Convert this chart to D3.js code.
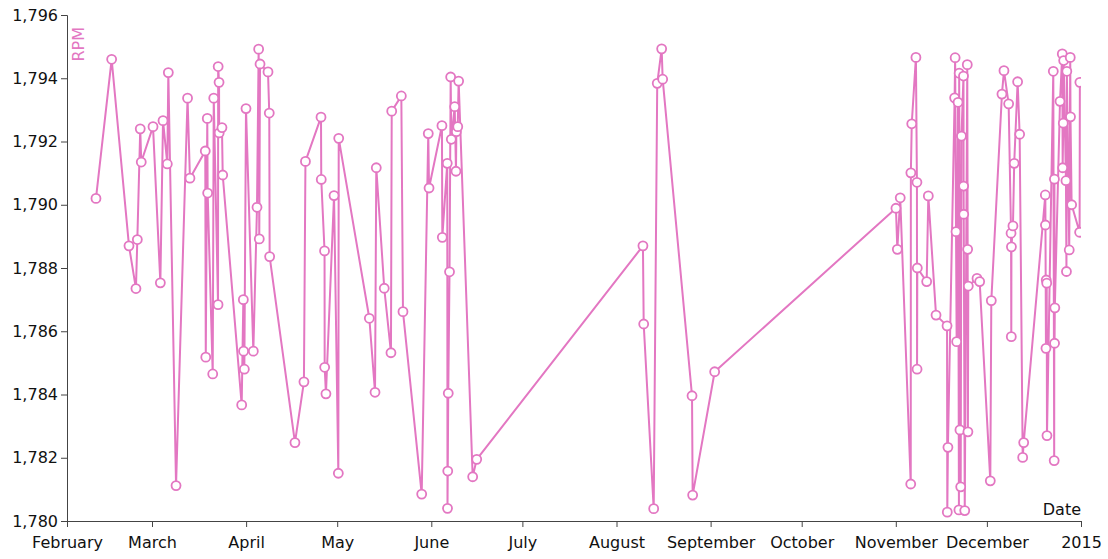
<!DOCTYPE html>
<html>
<head>
<meta charset="utf-8">
<script src="https://cdn.jsdelivr.net/npm/d3@7"></script>
<style>
  body { margin: 0; background: #fff; }
  svg { font-family: "DejaVu Sans", sans-serif; }
  .axis path, .axis line { stroke: #444; }
  .axis .tick text { font-size: 16px; fill: #111; font-family: "DejaVu Sans", sans-serif; }
  .axis-label { font-size: 16px; font-family: "DejaVu Sans", sans-serif; }
</style>
</head>
<body>
<svg width="1108" height="559"></svg>
<script>
// readings taken off the chart, in date order
const dates = [
  "2014-02-10 13","2014-02-15 17","2014-02-21 10","2014-02-23 17","2014-02-24 04",
  "2014-02-25 03","2014-02-25 11","2014-03-01 08","2014-03-03 18","2014-03-04 15",
  "2014-03-06 01","2014-03-06 09","2014-03-08 22","2014-03-12 17","2014-03-13 12",
  "2014-03-18 13","2014-03-18 17","2014-03-19 05","2014-03-19 08","2014-03-21 00",
  "2014-03-21 08","2014-03-22 18","2014-03-22 19","2014-03-23 02","2014-03-23 03",
  "2014-03-24 01","2014-03-24 07","2014-03-30 13","2014-03-31 02","2014-03-31 04",
  "2014-03-31 10","2014-03-31 23","2014-04-03 09","2014-04-04 14","2014-04-05 03",
  "2014-04-05 08","2014-04-05 14","2014-04-08 05","2014-04-08 15","2014-04-08 18",
  "2014-04-17 02","2014-04-20 01","2014-04-20 13","2014-04-25 16","2014-04-25 18",
  "2014-04-26 20","2014-04-26 21","2014-04-27 07","2014-04-29 23","2014-05-01 09",
  "2014-05-01 12","2014-05-11 14","2014-05-13 11","2014-05-13 21","2014-05-16 12",
  "2014-05-18 17","2014-05-18 23","2014-05-22 03","2014-05-22 16","2014-05-28 20",
  "2014-05-31 00","2014-05-31 06","2014-06-04 12","2014-06-04 15","2014-06-06 06",
  "2014-06-06 08","2014-06-06 10","2014-06-06 14","2014-06-07 00","2014-06-07 09",
  "2014-06-07 14","2014-06-08 17","2014-06-09 03","2014-06-09 06","2014-06-09 17",
  "2014-06-10 00","2014-06-14 15","2014-06-15 23","2014-08-09 17","2014-08-09 23",
  "2014-08-13 06","2014-08-14 10","2014-08-15 21","2014-08-16 05","2014-08-25 21",
  "2014-08-26 02","2014-09-02 08","2014-11-01 01","2014-11-01 12","2014-11-02 11",
  "2014-11-05 22","2014-11-05 23","2014-11-06 06","2014-11-07 15","2014-11-07 23",
  "2014-11-08 00","2014-11-08 02","2014-11-11 04","2014-11-11 17","2014-11-14 06",
  "2014-11-17 21","2014-11-17 23","2014-11-18 04","2014-11-20 09","2014-11-20 13",
  "2014-11-20 20","2014-11-21 01","2014-11-21 12","2014-11-21 19","2014-11-21 21",
  "2014-11-22 03","2014-11-22 09","2014-11-22 15","2014-11-23 07","2014-11-23 08",
  "2014-11-23 09","2014-11-23 17","2014-11-24 13","2014-11-24 16","2014-11-24 18",
  "2014-11-24 21","2014-11-27 18","2014-11-28 15","2014-12-02 03","2014-12-02 11",
  "2014-12-05 23","2014-12-06 15","2014-12-08 04","2014-12-08 23","2014-12-09 01",
  "2014-12-09 02","2014-12-09 14","2014-12-10 00","2014-12-11 03","2014-12-11 19",
  "2014-12-12 19","2014-12-13 03","2014-12-20 06","2014-12-20 07","2014-12-20 11",
  "2014-12-20 13","2014-12-20 17","2014-12-20 19","2014-12-22 21","2014-12-23 04",
  "2014-12-23 06","2014-12-23 07","2014-12-23 09","2014-12-25 02","2014-12-25 20",
  "2014-12-25 23","2014-12-26 04","2014-12-26 07","2014-12-27 01","2014-12-27 05",
  "2014-12-27 08","2014-12-28 03","2014-12-28 11","2014-12-28 13","2014-12-28 22",
  "2014-12-31 13","2014-12-31 15"
];
const rpm = [
  1790.2,1794.6,1788.7,1787.35,1788.9,
  1792.4,1791.35,1792.47,1787.53,1792.66,
  1791.29,1794.18,1781.12,1793.37,1790.84,
  1791.7,1785.18,1792.73,1790.37,1784.65,
  1793.37,1786.84,1794.37,1793.87,1792.27,
  1792.44,1790.94,1783.67,1787.0,1785.37,
  1784.8,1793.04,1785.37,1789.92,1794.92,
  1788.92,1794.45,1794.2,1792.9,1788.36,
  1782.48,1784.4,1791.37,1792.77,1790.8,
  1788.54,1784.86,1784.02,1790.29,1781.51,
  1792.1,1786.41,1784.07,1791.17,1787.36,
  1785.32,1792.96,1793.44,1786.62,1780.85,
  1792.25,1790.53,1792.5,1788.97,1791.31,
  1780.4,1781.58,1784.04,1787.88,1794.04,
  1792.07,1793.1,1791.06,1792.31,1792.47,
  1793.91,1781.4,1781.95,1788.7,1786.23,
  1780.39,1793.84,1794.93,1793.97,1783.96,
  1780.82,1784.72,1789.89,1788.59,1790.22,
  1781.17,1791.01,1792.56,1794.66,1790.71,
  1784.8,1788.0,1787.57,1790.28,1786.51,
  1786.17,1780.28,1782.33,1793.38,1794.65,
  1789.15,1785.67,1793.24,1780.35,1794.16,
  1782.88,1781.08,1792.17,1794.07,1790.59,
  1789.7,1780.33,1794.43,1788.59,1782.82,
  1787.43,1787.67,1787.57,1781.27,1786.97,
  1793.5,1794.24,1793.19,1789.1,1785.83,
  1788.67,1789.33,1791.31,1793.89,1792.23,
  1782.01,1782.48,1790.31,1789.36,1785.46,
  1787.62,1787.52,1782.7,1794.22,1781.91,
  1790.81,1785.62,1786.74,1793.27,1794.77,
  1791.17,1792.58,1794.56,1790.76,1787.89,
  1794.22,1788.57,1794.66,1792.78,1790.0,
  1789.13,1793.87
];
const xDomain = ["2014-02-01 00", "2015-01-01 00"];
const yDomain = [1780, 1796];
const yTicks = [1780, 1782, 1784, 1786, 1788, 1790, 1792, 1794, 1796];
const yLabel = "RPM";
const xLabel = "Date";

(function (d3) {
  'use strict';
  const color = '#e377c2';
  const svg = d3.select('svg');
  const margin = { top: 15, right: 27, bottom: 38, left: 67 };
  const width = +svg.attr('width') - margin.left - margin.right;
  const height = +svg.attr('height') - margin.top - margin.bottom;

  const parse = d3.timeParse('%Y-%m-%d %H');
  const data = dates.map((d, i) => ({ date: parse(d), value: rpm[i] }));

  const x = d3.scaleTime().domain(xDomain.map(parse)).range([0, width]);
  const y = d3.scaleLinear().domain(yDomain).range([height, 0]);

  const g = svg.append('g')
      .attr('transform', `translate(${margin.left},${margin.top})`);

  g.append('clipPath').attr('id', 'plot-clip')
    .append('rect')
      .attr('x', -10).attr('y', -10)
      .attr('width', width + 10).attr('height', height + 20);

  g.append('g')
      .attr('class', 'axis x')
      .attr('transform', `translate(0,${height})`)
      .call(d3.axisBottom(x).ticks(d3.timeMonth.every(1)).tickPadding(10))
    .append('text')
      .attr('class', 'axis-label')
      .attr('x', width)
      .attr('y', -6)
      .attr('text-anchor', 'end')
      .style('fill', '#111')
      .text(xLabel);

  g.append('g')
      .attr('class', 'axis y')
      .call(d3.axisLeft(y).tickValues(yTicks).tickFormat(d3.format(',')))
    .append('text')
      .attr('class', 'axis-label')
      .attr('transform', 'rotate(-90)')
      .attr('x', -12)
      .attr('y', 6)
      .attr('dy', '.71em')
      .attr('text-anchor', 'end')
      .style('fill', color)
      .text(yLabel);

  const plot = g.append('g').attr('clip-path', 'url(#plot-clip)');

  const line = d3.line()
      .x(d => x(d.date))
      .y(d => y(d.value));

  plot.append('path')
      .datum(data)
      .attr('fill', 'none')
      .attr('stroke', color)
      .attr('stroke-width', 2)
      .attr('stroke-linejoin', 'round')
      .attr('d', line);

  plot.selectAll('circle').data(data)
    .enter().append('circle')
      .attr('cx', d => x(d.date))
      .attr('cy', d => y(d.value))
      .attr('r', 4.5)
      .attr('fill', '#fff')
      .attr('stroke', color)
      .attr('stroke-width', 1.8);
}(d3));
</script>
</body>
</html>
